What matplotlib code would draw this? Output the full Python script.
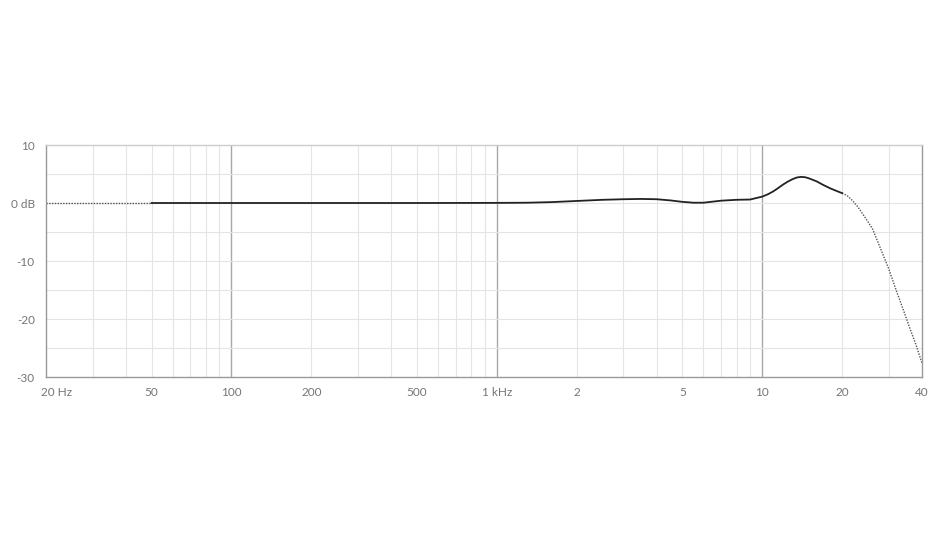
import numpy as np
import matplotlib.pyplot as plt
import matplotlib.transforms as mtransforms
from matplotlib.ticker import FixedLocator, NullFormatter

# frequency response (Hz, dB)
solid_hz = [50, 100, 200, 500, 1000, 1300, 1600, 2000, 2500, 3000, 3500, 4000,
            4500, 5000, 5500, 6000, 7000, 8000, 9000, 10000, 10500, 11000,
            11500, 12000, 12500, 13000, 13500, 14000, 14500, 15000, 16000,
            17000, 18000, 19000, 20000]
solid_db = [0.0, 0.0, 0.0, 0.0, 0.02, 0.05, 0.15, 0.35, 0.55, 0.65, 0.7, 0.65,
            0.45, 0.2, 0.05, 0.05, 0.4, 0.55, 0.6, 1.1, 1.5, 2.0,
            2.6, 3.2, 3.7, 4.1, 4.4, 4.5, 4.45, 4.25, 3.75,
            3.1, 2.55, 2.1, 1.7]

low_hz = [20, 50]
low_db = [0.0, 0.0]

high_hz = [20000, 21000, 22000, 23000, 24000, 25000, 26000, 28000, 30000,
           32000, 34000, 36000, 38000, 40000]
high_db = [1.7, 1.2, 0.3, -0.75, -2.0, -3.2, -4.4, -8.0, -11.4,
           -15.1, -18.4, -21.6, -24.5, -27.6]

x_ticks = [20, 50, 100, 200, 500, 1000, 2000, 5000, 10000, 20000, 40000]
x_labels = ['20 Hz', '50', '100', '200', '500', '1 kHz', '2', '5', '10', '20', '40']
y_ticks = [10, 0, -10, -20, -30]
y_labels = ['10', '0 dB', '-10', '-20', '-30']

plt.rcParams['font.family'] = ['Lato', 'DejaVu Sans']

fig = plt.figure(figsize=(9.48, 5.35), dpi=100)
ax = fig.add_axes([46 / 948, 158 / 535, 876 / 948, 232 / 535])
ax.set_xscale('log')
ax.set_xlim(20, 40000)
ax.set_ylim(-30, 10)

# grid
minor = []
for dec in [10, 100, 1000, 10000]:
    for m in range(2, 10):
        f = m * dec
        if 20 < f < 40000 and f not in (100, 1000, 10000):
            minor.append(f)
for f in minor:
    ax.axvline(f, color='#e4e4e4', lw=0.8, zorder=0)
for f in [100, 1000, 10000]:
    ax.axvline(f, color='#a8a8a8', lw=1.0, zorder=0)
for v in [-25, -20, -15, -10, -5, 0, 5]:
    ax.axhline(v, color='#e4e4e4', lw=0.8, zorder=0)

ax.plot(low_hz, low_db, color='#555555', lw=1.0, ls=(0, (1, 1)))
ax.plot(high_hz, high_db, color='#555555', lw=1.0, ls=(0, (1, 1)))
ax.plot(solid_hz, solid_db, color='#222222', lw=1.3)

for s in ['left', 'bottom', 'right']:
    ax.spines[s].set_color('#999999')
ax.spines['top'].set_color('#cccccc')
for s in ax.spines.values():
    s.set_linewidth(1.0)

ax.xaxis.set_major_locator(FixedLocator(x_ticks))
ax.xaxis.set_minor_formatter(NullFormatter())
ax.xaxis.set_minor_locator(FixedLocator([]))
ax.set_xticklabels(x_labels)
ax.set_yticks(y_ticks)
ax.set_yticklabels(y_labels)
ax.tick_params(length=0, labelsize=8.5, colors='#757575', pad=7)
ax.tick_params(axis='y', pad=8)
first = ax.get_xticklabels()[0]
first.set_horizontalalignment('left')
first.set_transform(first.get_transform() +
                    mtransforms.ScaledTranslation(-5 / 100, 0, fig.dpi_scale_trans))

plt.savefig('out.png', dpi=100)
plt.close()
